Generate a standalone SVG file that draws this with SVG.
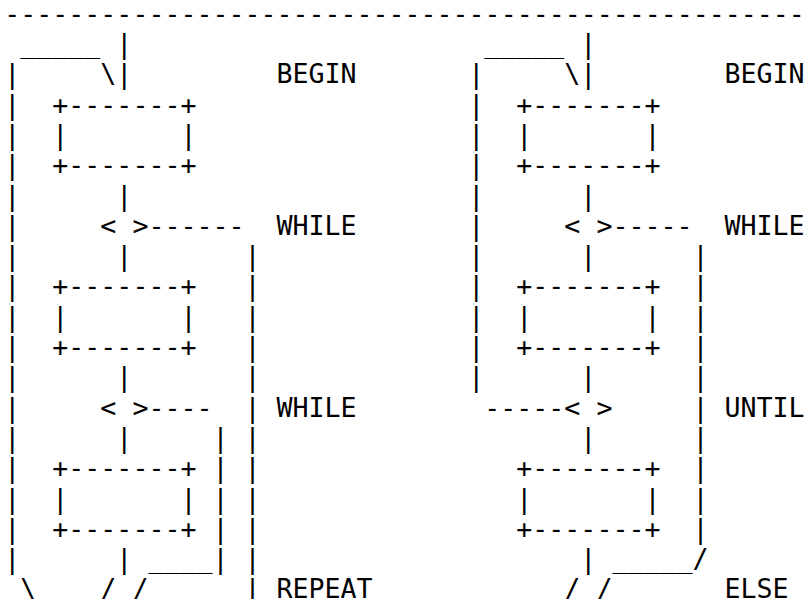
<svg xmlns="http://www.w3.org/2000/svg" width="805" height="599" viewBox="0 0 805 599">
<style>
text{font-family:"DejaVu Sans Mono","Liberation Mono",monospace;font-size:26.6px;fill:#000;white-space:pre}
</style>
<rect width="805" height="599" fill="#fff"/>
<g id="rule">
<text x="4.3" y="22.7" xml:space="preserve">--------------------------------------------------</text>
</g>
<g id="left-chart">
<text x="4.3" y="53.0" xml:space="preserve"> _____ |</text>
<text x="4.3" y="83.3" xml:space="preserve">|     \|         BEGIN</text>
<text x="4.3" y="113.6" xml:space="preserve">|  +-------+</text>
<text x="4.3" y="143.9" xml:space="preserve">|  |       |</text>
<text x="4.3" y="174.2" xml:space="preserve">|  +-------+</text>
<text x="4.3" y="204.5" xml:space="preserve">|      |</text>
<text x="4.3" y="234.8" xml:space="preserve">|     &lt; &gt;------  WHILE</text>
<text x="4.3" y="265.1" xml:space="preserve">|      |       |</text>
<text x="4.3" y="295.4" xml:space="preserve">|  +-------+   |</text>
<text x="4.3" y="325.7" xml:space="preserve">|  |       |   |</text>
<text x="4.3" y="356.0" xml:space="preserve">|  +-------+   |</text>
<text x="4.3" y="386.3" xml:space="preserve">|      |       |</text>
<text x="4.3" y="416.6" xml:space="preserve">|     &lt; &gt;----  | WHILE</text>
<text x="4.3" y="446.9" xml:space="preserve">|      |     | |</text>
<text x="4.3" y="477.2" xml:space="preserve">|  +-------+ | |</text>
<text x="4.3" y="507.5" xml:space="preserve">|  |       | | |</text>
<text x="4.3" y="537.8" xml:space="preserve">|  +-------+ | |</text>
<text x="4.3" y="568.1" xml:space="preserve">|      | ____| |</text>
<text x="4.3" y="598.4" xml:space="preserve"> \    / /      | REPEAT</text>
</g>
<g id="right-chart">
<text x="468.3" y="53.0" xml:space="preserve"> _____ |</text>
<text x="468.3" y="83.3" xml:space="preserve">|     \|        BEGIN</text>
<text x="468.3" y="113.6" xml:space="preserve">|  +-------+</text>
<text x="468.3" y="143.9" xml:space="preserve">|  |       |</text>
<text x="468.3" y="174.2" xml:space="preserve">|  +-------+</text>
<text x="468.3" y="204.5" xml:space="preserve">|      |</text>
<text x="468.3" y="234.8" xml:space="preserve">|     &lt; &gt;-----  WHILE</text>
<text x="468.3" y="265.1" xml:space="preserve">|      |      |</text>
<text x="468.3" y="295.4" xml:space="preserve">|  +-------+  |</text>
<text x="468.3" y="325.7" xml:space="preserve">|  |       |  |</text>
<text x="468.3" y="356.0" xml:space="preserve">|  +-------+  |</text>
<text x="468.3" y="386.3" xml:space="preserve">|      |      |</text>
<text x="468.3" y="416.6" xml:space="preserve"> -----&lt; &gt;     | UNTIL</text>
<text x="468.3" y="446.9" xml:space="preserve">       |      |</text>
<text x="468.3" y="477.2" xml:space="preserve">   +-------+  |</text>
<text x="468.3" y="507.5" xml:space="preserve">   |       |  |</text>
<text x="468.3" y="537.8" xml:space="preserve">   +-------+  |</text>
<text x="468.3" y="568.1" xml:space="preserve">       | _____/</text>
<text x="468.3" y="598.4" xml:space="preserve">      / /       ELSE</text>
</g>
</svg>
